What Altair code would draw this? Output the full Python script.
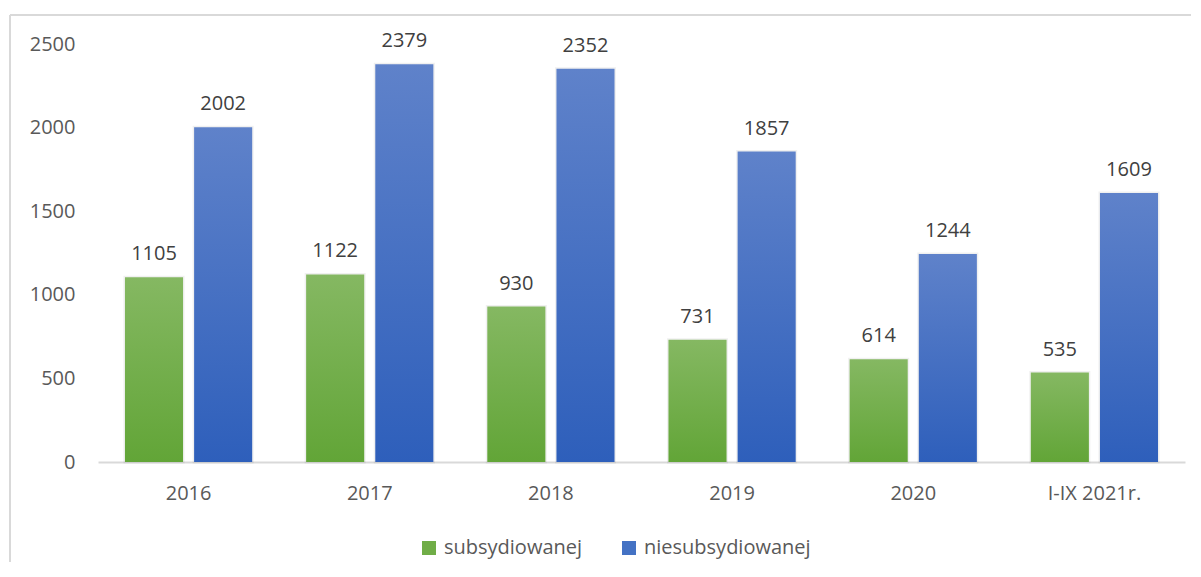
import altair as alt
import pandas as pd

categories = ["2016", "2017", "2018", "2019", "2020", "I-IX 2021r."]
series_names = ["subsydiowanej", "niesubsydiowanej"]
subsydiowanej = [1105, 1122, 930, 731, 614, 535]
niesubsydiowanej = [2002, 2379, 2352, 1857, 1244, 1609]
y_ticks = [0, 500, 1000, 1500, 2000, 2500]

rows = []
for c, a, b in zip(categories, subsydiowanej, niesubsydiowanej):
    rows.append({"year": c, "series": series_names[0], "value": a})
    rows.append({"year": c, "series": series_names[1], "value": b})
df = pd.DataFrame(rows)

FONT = "Open Sans"

x_enc = alt.X(
    "year:N",
    sort=categories,
    scale=alt.Scale(paddingInner=0, paddingOuter=0),
    axis=alt.Axis(
        title=None, labelAngle=0, ticks=False, domainColor="#d9d9d9", domainWidth=2,
        labelFontSize=20, labelColor="#595959", labelFont=FONT, labelPadding=21,
    ),
)
xo_enc = alt.XOffset(
    "series:N",
    sort=series_names,
    scale=alt.Scale(domain=series_names, paddingInner=0.16, paddingOuter=0.39),
)
y_enc = alt.Y(
    "value:Q",
    scale=alt.Scale(domain=[0, 2500], nice=False),
    axis=alt.Axis(
        title=None, values=y_ticks, grid=False, domain=False, ticks=False, format="d",
        labelFontSize=20, labelColor="#595959", labelFont=FONT, labelPadding=23,
    ),
)

base = alt.Chart(df).encode(x=x_enc, xOffset=xo_enc, y=y_enc)

green_grad = alt.Gradient(
    gradient="linear", x1=0, x2=0, y1=0, y2=1,
    stops=[alt.GradientStop(color="#85b862", offset=0),
           alt.GradientStop(color="#62a537", offset=1)],
)
blue_grad = alt.Gradient(
    gradient="linear", x1=0, x2=0, y1=0, y2=1,
    stops=[alt.GradientStop(color="#5f82ca", offset=0),
           alt.GradientStop(color="#2e5fbb", offset=1)],
)

shadow = base.mark_bar(
    fill="transparent", stroke="#000000", strokeOpacity=0.06, strokeWidth=3
)

green = base.transform_filter(alt.datum.series == series_names[0]).mark_bar(color=green_grad)
blue = base.transform_filter(alt.datum.series == series_names[1]).mark_bar(color=blue_grad)

legend_layer = base.mark_bar(opacity=0).encode(
    color=alt.Color(
        "series:N",
        sort=series_names,
        scale=alt.Scale(domain=series_names, range=["#70ad47", "#4472c4"]),
        legend=alt.Legend(
            title=None, orient="none", direction="horizontal", legendX=321, legendY=494,
            symbolType="square", symbolSize=196, symbolStrokeWidth=0, symbolOpacity=1,
            labelFontSize=20, labelColor="#595959", labelFont=FONT, labelOffset=5,
            labelLimit=0, columnPadding=36, padding=0,
        ),
    )
)

labels = base.mark_text(
    baseline="alphabetic", dy=-17, fontSize=20, color="#404040", font=FONT
).encode(text="value:Q")

frame_data = alt.Data(values=[{"k": 1}])
frame_left = alt.Chart(frame_data).mark_rule(color="#d9d9d9", strokeWidth=2).encode(
    x=alt.value(-88), y=alt.value(-29), y2=alt.value(700)
)
frame_top = alt.Chart(frame_data).mark_rule(color="#d9d9d9", strokeWidth=2).encode(
    x=alt.value(-88), x2=alt.value(1200), y=alt.value(-29)
)

chart = alt.layer(
    frame_left, frame_top, shadow, green, blue, legend_layer, labels
).properties(
    width=1087, height=418,
    padding={"left": 90, "top": 36, "right": 6, "bottom": 100},
    autosize=alt.AutoSizeParams(type="none"),
).configure(font=FONT).configure_view(stroke=None)

chart.save("out.html", embed_options={"renderer": "svg", "actions": False})
